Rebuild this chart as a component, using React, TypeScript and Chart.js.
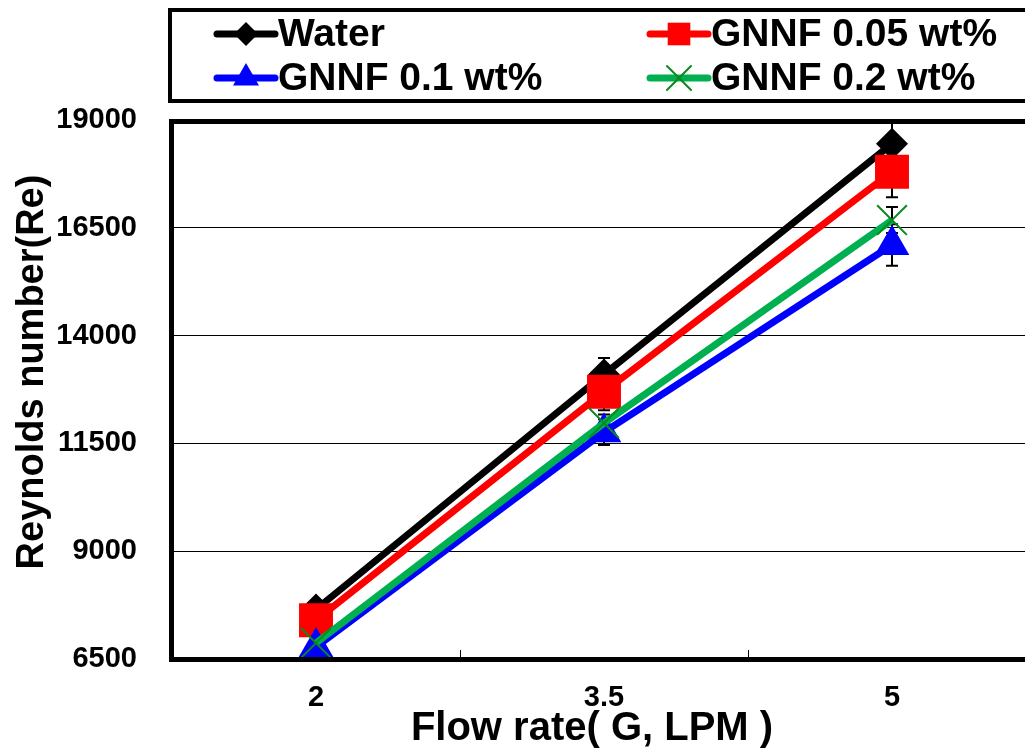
import React, { useEffect, useRef } from 'react';
import { Chart, registerables } from 'chart.js';

Chart.register(...registerables);

const categories = ['2', '3.5', '5'];
const seriesNames = ['Water', 'GNNF 0.05 wt%', 'GNNF 0.1 wt%', 'GNNF 0.2 wt%'];
const waterValues = [7650, 13100, 18450];
const gnnf005Values = [7400, 12700, 17800];
const gnnf01Values = [6780, 11760, 16100];
const gnnf02Values = [6870, 11970, 16680];
const waterErrors = [150, 380, 1000];
const gnnf005Errors = [150, 430, 590];
const gnnf01Errors = [120, 300, 480];
const gnnf02Errors = [100, 200, 300];
const yMin = 6500;
const yMax = 19000;
const yStep = 2500;
const xTitle = 'Flow rate( G, LPM )';
const yTitle = 'Reynolds number(Re)';

const FONT = '"Liberation Sans", Arial, sans-serif';

function drawMarker(ctx: CanvasRenderingContext2D, style: string, x: number, y: number, r: number, fill: string, stroke: string, lw: number) {
  ctx.save();
  ctx.beginPath();
  if (style === 'rectRot') {
    ctx.moveTo(x, y - r);
    ctx.lineTo(x + r, y);
    ctx.lineTo(x, y + r);
    ctx.lineTo(x - r, y);
    ctx.closePath();
    ctx.fillStyle = fill;
    ctx.fill();
  } else if (style === 'rect') {
    const s = r * Math.SQRT1_2;
    ctx.rect(x - s, y - s, 2 * s, 2 * s);
    ctx.fillStyle = fill;
    ctx.fill();
  } else if (style === 'triangle') {
    const h = r;
    ctx.moveTo(x, y - h);
    ctx.lineTo(x + h * Math.sin(Math.PI / 3), y + h / 2);
    ctx.lineTo(x - h * Math.sin(Math.PI / 3), y + h / 2);
    ctx.closePath();
    ctx.fillStyle = fill;
    ctx.fill();
  } else if (style === 'crossRot') {
    const d = r * Math.SQRT1_2;
    ctx.moveTo(x - d, y - d);
    ctx.lineTo(x + d, y + d);
    ctx.moveTo(x + d, y - d);
    ctx.lineTo(x - d, y + d);
    ctx.strokeStyle = stroke;
    ctx.lineWidth = lw;
    ctx.stroke();
  }
  ctx.restore();
}

const customPlugin = {
  id: 'customDraw',
  beforeDatasetsDraw(chart: any) {
    const { ctx, chartArea } = chart;
    const yScale = chart.scales.y;
    ctx.save();
    ctx.beginPath();
    ctx.rect(chartArea.left, chartArea.top, chartArea.right - chartArea.left, chartArea.bottom - chartArea.top);
    ctx.clip();
    ctx.strokeStyle = '#000';
    ctx.lineWidth = 2;
    chart.data.datasets.forEach((ds: any, di: number) => {
      const meta = chart.getDatasetMeta(di);
      ds.data.forEach((v: number, i: number) => {
        const e = ds.errors[i];
        const x = meta.data[i].x;
        const yt = yScale.getPixelForValue(v + e);
        const yb = yScale.getPixelForValue(v - e);
        ctx.beginPath();
        ctx.moveTo(x, yt);
        ctx.lineTo(x, yb);
        ctx.moveTo(x - 6, yt);
        ctx.lineTo(x + 6, yt);
        ctx.moveTo(x - 6, yb);
        ctx.lineTo(x + 6, yb);
        ctx.stroke();
      });
    });
    ctx.restore();
  },
  afterDatasetsDraw(chart: any) {
    const { ctx, chartArea } = chart;
    const xScale = chart.scales.x;
    ctx.save();
    ctx.strokeStyle = '#000';
    ctx.lineWidth = 1;
    for (let i = 1; i < categories.length; i++) {
      const x = Math.round((xScale.getPixelForTick(i - 1) + xScale.getPixelForTick(i)) / 2) + 0.5;
      ctx.beginPath();
      ctx.moveTo(x, chartArea.bottom - 9);
      ctx.lineTo(x, chartArea.bottom);
      ctx.stroke();
    }
    ctx.lineWidth = 5;
    ctx.strokeRect(chartArea.left - 0.5, chartArea.top + 1.5, chartArea.right - chartArea.left + 20, chartArea.bottom - chartArea.top - 1);
    ctx.restore();
  },
  afterDraw(chart: any) {
    const { ctx } = chart;
    ctx.save();
    // axis titles
    ctx.fillStyle = '#000';
    ctx.textAlign = 'center';
    ctx.textBaseline = 'middle';
    ctx.save();
    ctx.translate(33, 372);
    ctx.rotate(-Math.PI / 2);
    ctx.font = `bold 38px ${FONT}`;
    ctx.fillText(yTitle, 0, 0);
    ctx.restore();
    ctx.font = `bold 40px ${FONT}`;
    ctx.fillText(xTitle, 592, 729);
    // legend box
    ctx.strokeStyle = '#000';
    ctx.lineWidth = 4;
    ctx.strokeRect(170, 10, 900, 91);
    const positions = [
      [217, 34],
      [650, 34],
      [217, 78],
      [650, 78],
    ];
    ctx.font = `bold 39px ${FONT}`;
    ctx.textBaseline = 'middle';
    ctx.textAlign = 'left';
    chart.data.datasets.forEach((ds: any, di: number) => {
      const [lx, ly] = positions[di];
      ctx.strokeStyle = ds.borderColor;
      ctx.lineWidth = 7;
      ctx.lineCap = 'round';
      ctx.beginPath();
      ctx.moveTo(lx, ly);
      ctx.lineTo(lx + 58, ly);
      ctx.stroke();
      const r = ds.pointStyle === 'rect' ? 16 : ds.pointStyle === 'triangle' ? 15 : ds.pointStyle === 'crossRot' ? 17 : 12;
      drawMarker(ctx, ds.pointStyle, lx + 29, ly, r, ds.pointBackgroundColor, ds.pointBorderColor, 2);
      ctx.fillStyle = '#000';
      ctx.fillText(ds.label, lx + 61, ly + 1);
    });
    ctx.restore();
  },
};

export default function App() {
  const canvasRef = useRef<HTMLCanvasElement | null>(null);

  useEffect(() => {
    if (!canvasRef.current) return;
    const chart = new Chart(canvasRef.current, {
      type: 'line',
      data: {
        labels: categories,
        datasets: [
          {
            label: seriesNames[0],
            data: waterValues,
            errors: waterErrors,
            borderColor: '#000000',
            pointStyle: 'rectRot',
            pointRadius: 16,
            pointBackgroundColor: '#000000',
            pointBorderColor: '#000000',
            pointBorderWidth: 0,
            order: 4,
          },
          {
            label: seriesNames[1],
            data: gnnf005Values,
            errors: gnnf005Errors,
            borderColor: '#ff0000',
            pointStyle: 'rect',
            pointRadius: 24,
            pointBackgroundColor: '#ff0000',
            pointBorderColor: '#ff0000',
            pointBorderWidth: 0,
            order: 3,
          },
          {
            label: seriesNames[2],
            data: gnnf01Values,
            errors: gnnf01Errors,
            borderColor: '#0000ff',
            pointStyle: 'triangle',
            pointRadius: 20,
            pointBackgroundColor: '#0000ff',
            pointBorderColor: '#0000ff',
            pointBorderWidth: 0,
            order: 2,
          },
          {
            label: seriesNames[3],
            data: gnnf02Values,
            errors: gnnf02Errors,
            borderColor: '#00b050',
            pointStyle: 'crossRot',
            pointRadius: 21,
            pointBackgroundColor: '#008000',
            pointBorderColor: '#0a8a1e',
            pointBorderWidth: 2,
            order: 1,
          },
        ].map((d) => ({ ...d, borderWidth: 7, fill: false, tension: 0, clip: false, pointHoverRadius: d.pointRadius })) as any,
      },
      options: {
        responsive: false,
        animation: false,
        events: [],
        layout: { padding: { left: 0, top: 120, right: 10, bottom: 0 } },
        plugins: {
          legend: { display: false },
          tooltip: { enabled: false },
        },
        scales: {
          x: {
            type: 'category',
            offset: true,
            grid: { display: false, drawTicks: false },
            border: { display: false },
            ticks: {
              color: '#000',
              padding: 22,
              font: { family: FONT, size: 29, weight: 'bold' },
              maxRotation: 0,
            },
            afterFit: (s: any) => {
              s.height = 92;
            },
          },
          y: {
            min: yMin,
            max: yMax,
            grid: { color: '#000', lineWidth: 1, drawTicks: false },
            border: { display: false },
            ticks: {
              stepSize: yStep,
              color: '#000',
              padding: 35,
              font: { family: FONT, size: 29, weight: 'bold' },
              callback: (v: any) => String(v),
            },
            afterFit: (s: any) => {
              s.width = 172;
            },
          },
        },
      } as any,
      plugins: [customPlugin],
    });
    return () => chart.destroy();
  }, []);

  return (
    <div style={{ position: 'fixed', left: 0, top: 0, width: 1025, height: 751, overflow: 'hidden', background: '#fff' }}>
      <canvas ref={canvasRef} width={1060} height={751} style={{ display: 'block' }} />
    </div>
  );
}
